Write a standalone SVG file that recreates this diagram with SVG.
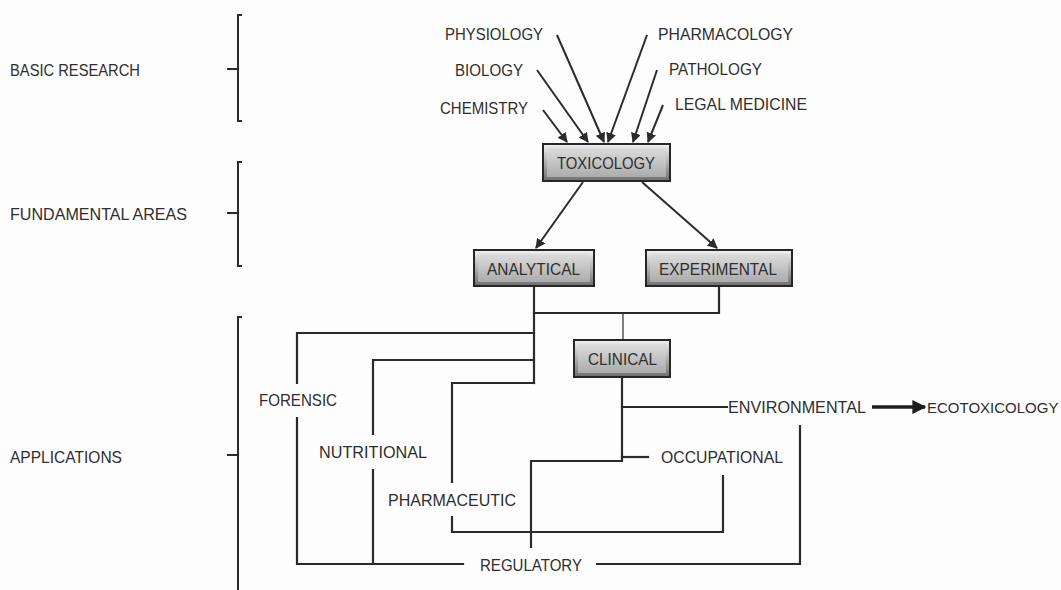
<svg xmlns="http://www.w3.org/2000/svg" width="1061" height="590" viewBox="0 0 1061 590">
<defs>
<style>
text{font-family:"Liberation Sans",Arial,sans-serif;font-size:16.5px;fill:#2e2e2e;dominant-baseline:central}
.box text{text-anchor:middle}
.ln{fill:none;stroke:#2b2b2b;stroke-width:2.2;stroke-linecap:square}
.thin{fill:none;stroke:#2b2b2b;stroke-width:1.2}
.arr{fill:none;stroke:#2b2b2b;stroke-width:2}
.brk{fill:none;stroke:#2b2b2b;stroke-width:2}
.outer{fill:url(#gOut);stroke:#262626;stroke-width:2}
.inner{fill:url(#gIn);stroke:none}
</style>
<linearGradient id="gOut" x1="0" y1="0" x2="0" y2="1">
<stop offset="0" stop-color="#f2f2f2"/>
<stop offset="1" stop-color="#6e6e6e"/>
</linearGradient>
<linearGradient id="gIn" x1="0" y1="0" x2="0" y2="1">
<stop offset="0" stop-color="#dcdcdc"/>
<stop offset="1" stop-color="#ababab"/>
</linearGradient>
<marker id="ah" viewBox="0 0 10 10" refX="9" refY="5" markerWidth="5" markerHeight="5" orient="auto" markerUnits="strokeWidth">
<path d="M0,0 L10,5 L0,10 z" fill="#2b2b2b"/>
</marker>
<marker id="ah2" viewBox="0 0 10 10" refX="9" refY="5" markerWidth="4" markerHeight="4" orient="auto" markerUnits="strokeWidth">
<path d="M0,0 L10,5 L0,10 z" fill="#1e1e1e"/>
</marker>
</defs>
<rect width="1061" height="590" fill="#fdfdfd"/>

<g id="levels">
<g id="basic-research">
<text x="10" y="70" textLength="130" lengthAdjust="spacingAndGlyphs">BASIC RESEARCH</text>
<path class="brk" d="M242,15 H238 V121 H242 M227,69 H238"/>
</g>
<g id="fundamental-areas">
<text x="10" y="214" textLength="177" lengthAdjust="spacingAndGlyphs">FUNDAMENTAL AREAS</text>
<path class="brk" d="M242,162 H238 V266 H242 M227,213 H238"/>
</g>
<g id="applications">
<text x="10" y="457" textLength="112" lengthAdjust="spacingAndGlyphs">APPLICATIONS</text>
<path class="brk" d="M242,317 H238 V590 M227,455 H238"/>
</g>
</g>

<g id="connectors">
<line class="arr" x1="543" y1="110" x2="567" y2="142" marker-end="url(#ah)"/>
<line class="arr" x1="537" y1="70" x2="588" y2="142" marker-end="url(#ah)"/>
<line class="arr" x1="557" y1="35" x2="604" y2="142" marker-end="url(#ah)"/>
<line class="arr" x1="647" y1="35" x2="608" y2="142" marker-end="url(#ah)"/>
<line class="arr" x1="657" y1="70" x2="633" y2="142" marker-end="url(#ah)"/>
<line class="arr" x1="663" y1="105" x2="648" y2="142" marker-end="url(#ah)"/>
<line class="arr" x1="583" y1="182" x2="536" y2="248" marker-end="url(#ah)"/>
<line class="arr" x1="642" y1="182" x2="717" y2="248" marker-end="url(#ah)"/>

<path class="ln" d="M534,287 V383"/>
<path class="ln" d="M719,287 V313 H534"/>
<path class="thin" d="M623,313 V340"/>
<path class="ln" d="M534,333 H297 V383 M297,418 V564 H463"/>
<path class="ln" d="M534,360 H373 V434 M373,470 V564"/>
<path class="ln" d="M534,383 H452 V482 M452,517 V532 H723 V476"/>
<path class="ln" d="M622,378 V461 H531 V547"/>
<path class="ln" d="M622,407 H727"/>
<path class="ln" d="M622,457 H648"/>
<path class="ln" d="M597,564 H800 V426"/>
<line x1="872" y1="407" x2="925" y2="407" stroke="#1e1e1e" stroke-width="3.5" marker-end="url(#ah2)"/>
</g>

<g id="sources">
<text x="445" y="34" textLength="98" lengthAdjust="spacingAndGlyphs">PHYSIOLOGY</text>
<text x="658" y="34" textLength="135" lengthAdjust="spacingAndGlyphs">PHARMACOLOGY</text>
<text x="455" y="70" textLength="68" lengthAdjust="spacingAndGlyphs">BIOLOGY</text>
<text x="669" y="69" textLength="93" lengthAdjust="spacingAndGlyphs">PATHOLOGY</text>
<text x="440" y="108" textLength="88" lengthAdjust="spacingAndGlyphs">CHEMISTRY</text>
<text x="675" y="104" textLength="132" lengthAdjust="spacingAndGlyphs">LEGAL MEDICINE</text>
</g>

<g id="toxicology" class="box">
<rect class="outer" x="543" y="144" width="127" height="37"/>
<rect class="inner" x="547" y="148" width="119" height="29"/>
<text x="606" y="163" textLength="98" lengthAdjust="spacingAndGlyphs">TOXICOLOGY</text>
</g>
<g id="analytical" class="box">
<rect class="outer" x="474" y="250" width="120" height="36"/>
<rect class="inner" x="478" y="254" width="112" height="28"/>
<text x="533.5" y="268.5" textLength="93" lengthAdjust="spacingAndGlyphs">ANALYTICAL</text>
</g>
<g id="experimental" class="box">
<rect class="outer" x="646" y="250" width="146" height="36"/>
<rect class="inner" x="650" y="254" width="138" height="28"/>
<text x="718" y="268.5" textLength="118" lengthAdjust="spacingAndGlyphs">EXPERIMENTAL</text>
</g>
<g id="clinical" class="box">
<rect class="outer" x="574" y="340" width="96" height="37"/>
<rect class="inner" x="578" y="344" width="88" height="29"/>
<text x="622.5" y="359" textLength="69" lengthAdjust="spacingAndGlyphs">CLINICAL</text>
</g>

<g id="applications-labels">
<text x="259" y="400" textLength="78" lengthAdjust="spacingAndGlyphs">FORENSIC</text>
<text x="319" y="452" textLength="108" lengthAdjust="spacingAndGlyphs">NUTRITIONAL</text>
<text x="388" y="500" textLength="128" lengthAdjust="spacingAndGlyphs">PHARMACEUTIC</text>
<text x="728" y="407" textLength="138" lengthAdjust="spacingAndGlyphs">ENVIRONMENTAL</text>
<text x="927" y="407" style="font-size:15px">ECOTOXICOLOGY</text>
<text x="661" y="457" textLength="122" lengthAdjust="spacingAndGlyphs">OCCUPATIONAL</text>
<text x="480" y="565" textLength="102" lengthAdjust="spacingAndGlyphs">REGULATORY</text>
</g>
</svg>
